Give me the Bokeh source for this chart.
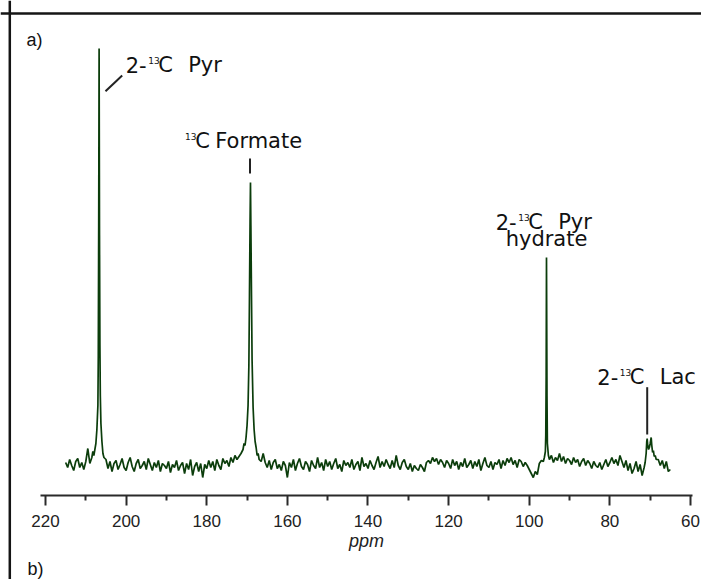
import numpy as np
from bokeh.plotting import figure
from bokeh.models import Range1d, LinearAxis, FixedTicker, Span
from bokeh.core.properties import value
from bokeh.embed import file_html
from bokeh.resources import INLINE

# ---------------- data ----------------
# baseline spectrum sampled every 0.5 ppm from 215 to 65 ppm (intensity, a.u.)
base_ppm = np.round(np.arange(215.0, 64.99, -0.5), 2)
base_int = [
    3, -2, 6, 0, -5, 4, 7, -2, 3, -4,
    4, 17, 2, 6, 8, 10, 12, 14, 10, 7,
    6, -3, 4, -6, 2, 5, -4, 1, 7, -2,
    -5, 3, 8, -1, -6, 2, 6, -3, 0, 4,
    -4, 7, 1, -5, 3, -2, 5, -6, 2, 0,
    -3, 4, -7, 1, -2, 5, -5, 0, 3, -8,
    2, -4, 6, -10, -1, 3, -6, 2, -12, 1,
    -3, 5, -2, 4, -5, 6, 0, -4, 7, 2,
    5, -1, 8, 3, 10, 6, 9, 12, 14, 18,
    20, 20, 20, 20, 16, 12, 8, 4, 12, 3,
    -2, 5, -4, 3, 6, -3, 1, -5, 4, 0,
    -12, 3, -2, 6, -5, 2, 7, -1, -4, 4,
    1, -6, 5, 0, -3, 8, -2, 3, -5, 6,
    -1, 4, -4, 2, 7, -3, 1, -6, 5, 0,
    3, -2, 6, -4, 1, 4, -5, 8, -1, 2,
    -3, 5, 0, -4, 3, 9, -2, 4, -1, 6,
    1, -3, 5, -2, 10, 0, -4, 3, 6, -1,
    -4, 2, -6, 0, -3, -5, 1, -2, -6, 3,
    5, 2, 8, 4, 7, 1, 6, 3, -2, 5,
    2, -3, 6, 0, 4, -4, 3, -1, 7, -2,
    1, 5, -3, 4, -1, 6, -5, 2, 8, 0,
    -2, 4, -4, 3, 1, 6, -3, 5, 0, 7,
    3, 8, 1, 5, -2, 6, 4, -1, 3, 0,
    -4, -8, -12, -6, -9, 2, 5, 4, 6, 6,
    6, 10, 3, 8, 5, 12, 4, 9, 2, 7,
    5, 1, 8, 3, 6, -1, 4, 7, 0, 5,
    2, -3, 4, 0, -2, 3, -4, 1, 6, -1,
    3, 8, 2, 6, 0, 10, 4, -2, 5, -5,
    2, -8, -3, 4, -6, 1, -10, -2, 3, 3,
    3, 3, 3, 3, 6, 0, 5, -3, 4, -6,
    -4,
]

# resonances, finely sampled
pyr_ppm = [208.5, 208.25, 208.0, 207.75, 207.5, 207.25, 207.0, 206.9, 206.8,
           206.7, 206.6, 206.5, 206.4, 206.25, 206.0, 205.75, 205.5]
pyr_int = [8, 14, 10, 16, 22, 36, 60, 110, 240, 417, 230, 120, 70, 42, 24, 12, 8]

formate_ppm = [171.0, 170.75, 170.5, 170.25, 170.0, 169.75, 169.55, 169.4, 169.25,
               169.15, 169.05, 168.9, 168.75, 168.5, 168.25, 168.0, 167.75, 167.5,
               167.25, 167.0]
formate_int = [16, 22, 20, 28, 40, 60, 100, 170, 245, 283, 240, 170, 105, 58, 36,
               24, 18, 10, 12, 6]

hydrate_ppm = [96.5, 96.25, 96.0, 95.9, 95.8, 95.72, 95.6, 95.5, 95.25, 95.0]
hydrate_int = [4, 8, 14, 30, 90, 208, 70, 22, 10, 6]

lac_ppm = [71.25, 71.0, 70.85, 70.75, 70.6, 70.4, 70.2, 70.0, 69.75, 69.6, 69.4,
           69.2, 69.0, 68.75, 68.5]
lac_int = [3, 12, 24, 27, 20, 16, 18, 22, 28, 20, 13, 15, 9, 10, 6]

tick_values = [220, 200, 180, 160, 140, 120, 100, 80, 60]
minor_values = [210, 190, 170, 150, 130, 110, 90, 70]

# ---------------- assemble spectrum ----------------
base_ppm_a = np.asarray(base_ppm, float)
base_int_a = np.asarray(base_int, float)
assert len(base_ppm_a) == len(base_int_a)
peaks = [(pyr_ppm, pyr_int), (formate_ppm, formate_int),
         (hydrate_ppm, hydrate_int), (lac_ppm, lac_int)]
mask = np.ones(len(base_ppm_a), bool)
for pp, _ in peaks:
    mask &= ~((base_ppm_a >= min(pp)) & (base_ppm_a <= max(pp)))
xs = np.concatenate([base_ppm_a[mask]] + [np.asarray(pp, float) for pp, _ in peaks])
ys = np.concatenate([base_int_a[mask]] + [np.asarray(ii, float) for _, ii in peaks])
order = np.argsort(-xs)
xs, ys = xs[order], ys[order]

# ---------------- figure ----------------
W, H = 701, 579
X0, X1 = 231.16, 57.27
YTOP = 465.0
YBOT = YTOP - H
scale = W / (X0 - X1)


def dx(px):
    return X0 - px / scale


def dy(py):
    return YTOP - py


p = figure(width=W, height=H, output_backend="svg", toolbar_location=None,
           x_range=Range1d(X0, X1), y_range=Range1d(YBOT, YTOP),
           x_axis_location=None, y_axis_location=None, title=None,
           min_border=0, background_fill_color="white",
           border_fill_color="white")
p.outline_line_color = None
p.grid.visible = False

p.line(xs, ys, line_color="#0b3d0b", line_width=1.7)

# axis
ax = LinearAxis(fixed_location=dy(494.8))
ax.ticker = FixedTicker(ticks=tick_values, minor_ticks=minor_values)
ax.bounds = (dx(692), dx(40))
ax.axis_line_width = 2
ax.axis_line_color = "#2a2a2a"
ax.major_tick_in = 0
ax.major_tick_out = 10
ax.major_tick_line_width = 2
ax.major_tick_line_color = "#2a2a2a"
ax.minor_tick_in = 0
ax.minor_tick_out = 5
ax.minor_tick_line_width = 2
ax.minor_tick_line_color = "#2a2a2a"
ax.major_label_text_font = "Liberation Sans"
ax.major_label_text_font_size = "17px"
ax.major_label_text_color = "#222222"
ax.major_label_standoff = 10
ax.axis_label = "ppm"
ax.axis_label_text_font = "Liberation Sans"
ax.axis_label_text_font_style = "italic"
ax.axis_label_text_font_size = "18px"
ax.axis_label_text_color = "#222222"
ax.axis_label_standoff = 0
p.add_layout(ax, "below")

# frame lines (left, top)
p.add_layout(Span(location=dx(9.3), dimension="height", line_color="#151515", line_width=2.5))
p.add_layout(Span(location=dy(13), dimension="width", line_color="#151515", line_width=2.5))

FONT = value("DejaVu Sans")


def txt(px, py, s, size, font=FONT, style="normal", align="left"):
    # py is the wanted baseline in page pixels; the renderer sets the text
    # about 0.36 em lower than asked, so lift it by that amount
    fs = float(size.replace("px", ""))
    p.text(x=[dx(px)], y=[dy(py - 0.36 * fs)], text=[s], text_font=font,
           text_font_size=size, text_font_style=style, text_align=align,
           text_baseline="alphabetic", text_color="#111111")


def iso_label(L, base, word):
    txt(L - 1.5, base, "2-", "21px")
    txt(L + 21, base - 9.5, "13", "9px")
    txt(L + 31, base, "C", "21px")
    txt(L + 61, base, word, "21px")


iso_label(126.7, 72.5, "Pyr")
txt(184.5, 139.0, "13", "9px")
txt(194.8, 148.3, "C", "21px")
txt(214.7, 148.3, "Formate", "21px")
iso_label(496.7, 229.5, "Pyr")
txt(546, 246.5, "hydrate", "21px", align="center")
iso_label(598.3, 384.3, "Lac")

LAB = value("Liberation Sans")
txt(26, 45.5, "a)", "18px", font=LAB)
txt(27, 574.5, "b)", "18px", font=LAB)

# leader lines
p.line([dx(105), dx(121.7)], [dy(90.7), dy(75)], line_color="#222222", line_width=2)
p.line([dx(249.5), dx(249.5)], [dy(158), dy(173)], line_color="#222222", line_width=2)
p.line([dx(646.7), dx(646.7)], [dy(386.7), dy(434)], line_color="#222222", line_width=2)

open("out.html", "w").write(file_html(p, INLINE))
